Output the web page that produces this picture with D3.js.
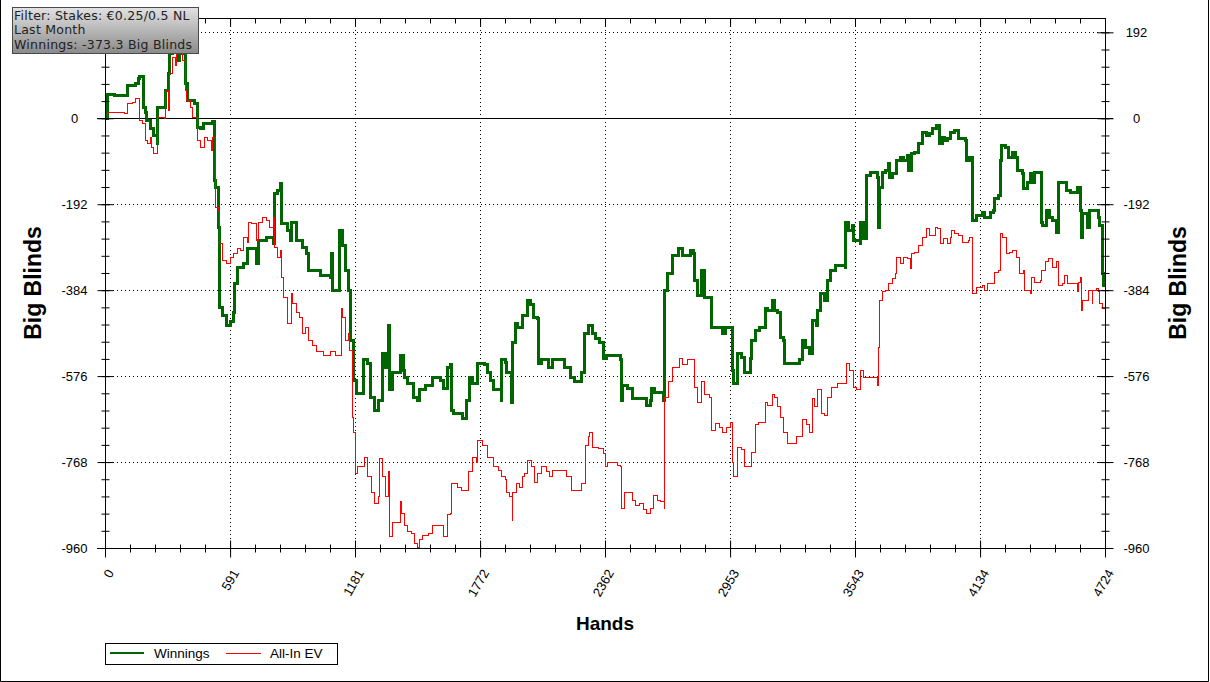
<!DOCTYPE html>
<html>
<head>
<meta charset="utf-8">
<script src="https://cdn.jsdelivr.net/npm/d3@7"></script>
<style>
  html, body { margin: 0; padding: 0; background: #fff; }
  svg { display: block; font-family: "Liberation Sans", Arial, sans-serif; }
</style>
</head>
<body>
<svg id="chart" width="1210" height="682"></svg>
<script>
// ---------- data ----------
const infoLines = ["Filter: Stakes: €0.25/0.5 NL", "Last Month", "Winnings: -373.3 Big Blinds"];
const seriesNames = ["Winnings", "All-In EV"];
const xTickLabels = [0, 591, 1181, 1772, 2362, 2953, 3543, 4134, 4724];
const yTickLabels = [192, 0, -192, -384, -576, -768, -960];

// Winnings (hand, big blinds)
const winningsHands = [0,14,47,94,104,142,156,165,180,189,198,213,222,231,246,250,283,288,298,307,317,331,345,354,368,378,392,416,425,435,449,463,510,515,524,534,543,557,572,591,605,614,624,652,671,709,718,723,746,765,794,803,813,827,836,860,874,883,907,931,954,959,1016,1063,1068,1077,1110,1124,1134,1148,1162,1172,1190,1219,1242,1252,1275,1290,1313,1323,1337,1346,1356,1384,1394,1408,1417,1431,1455,1474,1488,1512,1535,1549,1583,1597,1616,1630,1635,1644,1677,1691,1710,1724,1738,1762,1795,1809,1819,1833,1857,1871,1875,1890,1899,1918,1923,1937,1951,1970,1994,2008,2022,2045,2050,2064,2093,2112,2164,2173,2197,2220,2234,2253,2263,2282,2301,2315,2338,2353,2371,2419,2433,2438,2447,2466,2480,2490,2542,2560,2575,2584,2598,2622,2636,2645,2655,2679,2683,2707,2730,2764,2778,2787,2801,2820,2834,2858,2867,2905,2915,2929,2953,2962,2967,2986,2990,3009,3023,3047,3056,3071,3094,3118,3132,3151,3165,3179,3189,3203,3212,3269,3283,3293,3307,3330,3340,3363,3368,3378,3401,3411,3425,3449,3496,3500,3510,3529,3534,3567,3571,3581,3595,3614,3628,3647,3652,3661,3671,3685,3699,3708,3722,3741,3756,3770,3789,3798,3812,3826,3841,3860,3864,3883,3897,3907,3930,3940,3954,3968,3982,3992,4015,4030,4053,4067,4072,4086,4096,4100,4119,4143,4157,4181,4195,4204,4219,4228,4237,4252,4266,4285,4299,4313,4332,4337,4356,4370,4379,4393,4417,4426,4431,4450,4464,4478,4497,4502,4526,4544,4559,4573,4592,4606,4615,4620,4639,4653,4667,4691,4700,4710,4719,4724];
const winningsBB = [0,54,51,51,74,78,89,94,25,13,-4,-22,-22,-38,-56,25,25,63,100,145,163,152,129,152,145,78,40,40,33,-20,-22,-11,-7,-138,-154,-243,-422,-440,-462,-455,-435,-368,-333,-324,-290,-290,-324,-272,-272,-266,-279,-167,-161,-145,-234,-250,-272,-232,-272,-288,-301,-339,-351,-355,-301,-384,-250,-284,-339,-384,-496,-585,-614,-540,-547,-623,-652,-630,-525,-556,-462,-607,-569,-569,-529,-563,-578,-592,-623,-630,-607,-596,-596,-580,-585,-603,-556,-551,-652,-659,-659,-670,-630,-578,-592,-547,-551,-569,-585,-607,-607,-630,-540,-545,-569,-636,-502,-458,-467,-440,-406,-417,-444,-447,-547,-540,-556,-540,-540,-556,-578,-589,-589,-569,-480,-462,-480,-491,-502,-536,-529,-529,-540,-630,-596,-603,-603,-625,-625,-641,-630,-603,-612,-612,-630,-384,-346,-346,-306,-290,-306,-295,-301,-362,-395,-339,-400,-400,-467,-467,-480,-467,-467,-563,-592,-569,-525,-534,-567,-536,-496,-473,-467,-424,-429,-406,-429,-435,-489,-496,-547,-547,-540,-496,-511,-525,-451,-462,-429,-391,-406,-362,-339,-328,-333,-232,-250,-239,-272,-279,-232,-268,-127,-121,-121,-132,-243,-154,-121,-116,-100,-132,-123,-94,-87,-94,-83,-116,-78,-76,-56,-49,-31,-38,-33,-22,-16,-56,-42,-49,-45,-31,-27,-45,-45,-49,-94,-87,-188,-228,-217,-210,-221,-210,-205,-179,-172,-94,-60,-65,-87,-76,-87,-116,-123,-156,-143,-123,-143,-121,-121,-232,-239,-205,-221,-228,-255,-143,-143,-161,-165,-165,-154,-205,-266,-212,-243,-205,-205,-221,-239,-346,-373.3,-373.3];

// All-In EV (hand, big blinds)
const evHands = [0,14,94,104,128,142,161,165,175,189,203,213,222,231,246,250,283,288,298,307,321,331,340,354,368,378,387,402,411,435,437,449,463,472,482,496,505,510,520,524,534,539,553,557,576,591,605,624,638,652,671,676,694,709,718,727,746,765,779,794,803,813,827,836,841,860,864,883,888,907,921,931,945,959,978,1001,1030,1063,1087,1115,1124,1134,1148,1157,1167,1172,1181,1195,1214,1228,1238,1242,1261,1275,1290,1299,1309,1323,1337,1346,1356,1384,1394,1403,1417,1431,1450,1464,1474,1488,1502,1526,1549,1592,1597,1616,1630,1639,1663,1686,1710,1715,1734,1743,1757,1762,1781,1795,1809,1833,1857,1875,1890,1899,1913,1923,1927,1946,1960,1970,1984,1998,2017,2031,2045,2064,2088,2102,2112,2164,2182,2206,2234,2253,2268,2282,2291,2305,2329,2353,2362,2376,2400,2419,2433,2438,2456,2471,2490,2504,2527,2542,2560,2575,2589,2608,2622,2641,2645,2660,2679,2683,2716,2730,2754,2778,2787,2801,2820,2834,2858,2867,2882,2905,2919,2938,2953,2962,2967,2986,2990,3009,3023,3038,3056,3071,3085,3104,3118,3132,3151,3165,3179,3189,3203,3222,3245,3269,3293,3316,3330,3340,3354,3368,3387,3401,3415,3434,3458,3496,3505,3519,3534,3552,3567,3581,3628,3647,3652,3656,3661,3675,3685,3699,3718,3732,3741,3756,3770,3789,3803,3812,3826,3841,3864,3883,3897,3921,3935,3945,3959,3978,3992,4001,4015,4030,4049,4063,4077,4086,4096,4100,4119,4143,4157,4171,4195,4204,4219,4228,4242,4261,4275,4289,4308,4322,4337,4346,4370,4379,4393,4417,4426,4441,4455,4474,4488,4497,4502,4521,4535,4549,4573,4592,4597,4606,4615,4620,4639,4648,4663,4667,4686,4691,4700,4710,4724];
const evBB = [0,13,11,33,36,45,40,-4,-11,-49,-56,-42,-65,-78,-78,2,0,63,18,100,136,118,152,147,129,63,40,25,2,-4,-49,-65,-65,-42,-49,-49,-71,-42,-138,-199,-205,-279,-288,-317,-324,-310,-301,-290,-295,-266,-277,-232,-234,-234,-272,-232,-221,-228,-243,-221,-288,-310,-295,-355,-400,-406,-458,-391,-413,-435,-444,-480,-467,-496,-507,-522,-529,-522,-529,-424,-444,-496,-480,-518,-668,-703,-793,-779,-779,-757,-770,-801,-837,-860,-846,-759,-801,-846,-790,-935,-902,-902,-857,-882,-909,-924,-927,-949,-958,-942,-931,-927,-909,-909,-935,-886,-882,-815,-824,-831,-831,-790,-757,-757,-770,-719,-730,-730,-757,-779,-786,-801,-808,-837,-846,-898,-837,-815,-824,-801,-793,-764,-779,-813,-793,-779,-790,-801,-786,-786,-801,-831,-831,-815,-730,-712,-701,-735,-737,-748,-779,-768,-770,-775,-779,-871,-835,-837,-853,-864,-860,-875,-882,-871,-842,-853,-857,-871,-623,-589,-589,-556,-536,-551,-540,-540,-601,-636,-589,-618,-623,-697,-681,-690,-703,-690,-679,-770,-801,-786,-735,-741,-779,-779,-746,-685,-679,-679,-636,-641,-618,-623,-645,-668,-703,-726,-726,-712,-674,-685,-701,-625,-645,-607,-659,-663,-623,-601,-592,-592,-547,-563,-601,-607,-563,-580,-580,-596,-536,-511,-406,-388,-384,-368,-357,-346,-310,-324,-310,-313,-335,-301,-299,-284,-266,-246,-261,-243,-246,-279,-268,-279,-266,-250,-257,-261,-277,-277,-272,-266,-373,-391,-377,-373,-384,-368,-368,-344,-339,-257,-266,-301,-299,-295,-310,-346,-339,-384,-391,-355,-366,-362,-339,-321,-313,-333,-333,-321,-373,-368,-351,-368,-368,-388,-366,-355,-429,-406,-406,-384,-413,-384,-380,-388,-413,-424,-447];

// ---------- chart ----------
const svg = d3.select("#chart");
const W = 1210, H = 682;
const x = d3.scaleLinear().domain([0, 4724]).range([105, 1105]);
const y = d3.scaleLinear().domain([-960, 224]).range([548, 18]);
const LAB = "'Liberation Sans', Arial, sans-serif";

// outer frame
svg.append("path")
  .attr("d", `M0.5,0 V${H - 0.5} H${W - 1.5} V0`)
  .attr("fill", "none").attr("stroke", "#000").attr("stroke-width", 1);

const xMinor = d3.range(0, 41).map(i => i * 4724 / 40);
const yMinor = d3.range(0, 31).map(i => -960 + i * 38.4).filter(v => v <= 224);

// gridlines (dotted)
const grid = svg.append("g");
grid.selectAll("line.vg").data(xTickLabels.slice(1, -1)).join("line")
  .attr("x1", d => Math.round(x(d)) + 0.5).attr("x2", d => Math.round(x(d)) + 0.5)
  .attr("y1", y(224)).attr("y2", y(-960))
  .attr("stroke", "#000").attr("stroke-width", 1).attr("stroke-dasharray", "1,3");
grid.selectAll("line.hg").data(yTickLabels.filter(v => v !== 0 && v !== -960)).join("line")
  .attr("x1", x(0)).attr("x2", x(4724))
  .attr("y1", d => Math.round(y(d)) + 0.5).attr("y2", d => Math.round(y(d)) + 0.5)
  .attr("stroke", "#000").attr("stroke-width", 1).attr("stroke-dasharray", "1,3");

// top frame line
svg.append("line").attr("x1", 105).attr("x2", 1105.5).attr("y1", 18.5).attr("y2", 18.5)
  .attr("stroke", "#000");

// zero line
svg.append("line").attr("x1", 97).attr("x2", 1113).attr("y1", Math.round(y(0)) + 0.5).attr("y2", Math.round(y(0)) + 0.5)
  .attr("stroke", "#000");

// series lines
const lineGen = d3.line().x(d => x(d[0])).y(d => y(d[1])).curve(d3.curveStepAfter);
const winData = winningsHands.map((h, i) => [h, winningsBB[i]]);
const evData = evHands.map((h, i) => [h, evBB[i]]);
svg.append("path").datum(winData).attr("d", lineGen)
  .attr("fill", "none").attr("stroke", "#006600").attr("stroke-width", 3)
  .attr("shape-rendering", "crispEdges");
svg.append("path").datum(evData).attr("d", lineGen)
  .attr("fill", "none").attr("stroke", "#ff0000").attr("stroke-width", 1)
  .attr("shape-rendering", "crispEdges");

// x axis (bottom)
const xAxisG = svg.append("g").attr("transform", `translate(0,${Math.round(y(-960)) + 0.5})`);
xAxisG.call(d3.axisBottom(x).tickValues(xMinor).tickSize(4).tickFormat(""));
xAxisG.selectAll(".tick line").attr("y1", -4);
xAxisG.select(".domain").remove();
const xMaj = svg.append("g").attr("transform", `translate(0,${Math.round(y(-960)) + 0.5})`);
xMaj.call(d3.axisBottom(x).tickValues(xTickLabels).tickSize(9).tickFormat(d => d));
xMaj.select(".domain").remove();
xMaj.selectAll(".tick line").attr("y1", -8);
xMaj.selectAll(".tick text")
  .style("font-family", LAB).style("font-size", "13px").attr("fill", "#000")
  .attr("text-anchor", "end").attr("dy", "0.35em")
  .attr("transform", "translate(5,22) rotate(-60)")
  .attr("y", 0).attr("x", 0);
svg.append("line").attr("x1", 97).attr("x2", 1105.5).attr("y1", Math.round(y(-960)) + 0.5).attr("y2", Math.round(y(-960)) + 0.5)
  .attr("stroke", "#000");

// top ticks (inward)
const xTop = svg.append("g").attr("transform", "translate(0,18.5)");
xTop.call(d3.axisBottom(x).tickValues(xMinor).tickSize(5).tickFormat(""));
xTop.select(".domain").remove();
const xTop2 = svg.append("g").attr("transform", "translate(0,18.5)");
xTop2.call(d3.axisBottom(x).tickValues(xTickLabels).tickSize(8).tickFormat(""));
xTop2.select(".domain").remove();

// left axis
const yL = svg.append("g").attr("transform", "translate(105.5,0)");
yL.call(d3.axisLeft(y).tickValues(yMinor).tickSize(4).tickFormat(""));
yL.selectAll(".tick line").attr("x1", 4);
yL.select(".domain").remove();
const yLM = svg.append("g").attr("transform", "translate(105.5,0)");
yLM.call(d3.axisLeft(y).tickValues(yTickLabels).tickSize(8).tickFormat(d => d));
yLM.select(".domain").remove();
yLM.selectAll(".tick line").attr("x1", 8);
yLM.selectAll(".tick text").style("font-family", LAB).style("font-size", "13px")
  .attr("fill", "#000").attr("text-anchor", "middle").attr("x", -31);
svg.append("line").attr("x1", 105.5).attr("x2", 105.5).attr("y1", 18).attr("y2", 557).attr("stroke", "#000");

// right axis
const yR = svg.append("g").attr("transform", "translate(1105.5,0)");
yR.call(d3.axisRight(y).tickValues(yMinor).tickSize(4).tickFormat(""));
yR.selectAll(".tick line").attr("x1", -4);
yR.select(".domain").remove();
const yRM = svg.append("g").attr("transform", "translate(1105.5,0)");
yRM.call(d3.axisRight(y).tickValues(yTickLabels).tickSize(8).tickFormat(d => d));
yRM.select(".domain").remove();
yRM.selectAll(".tick line").attr("x1", -8);
yRM.selectAll(".tick text").style("font-family", LAB).style("font-size", "13px")
  .attr("fill", "#000").attr("text-anchor", "middle").attr("x", 31);
svg.append("line").attr("x1", 1105.5).attr("x2", 1105.5).attr("y1", 18).attr("y2", 557).attr("stroke", "#000");

// axis titles
svg.append("text").attr("x", 605).attr("y", 630).attr("text-anchor", "middle")
  .style("font-family", LAB).style("font-size", "19px").attr("font-weight", "bold").text("Hands");
svg.append("text").attr("transform", "translate(41,283) rotate(-90)").attr("text-anchor", "middle")
  .style("font-family", LAB).style("font-size", "23px").attr("font-weight", "bold").text("Big Blinds");
svg.append("text").attr("transform", "translate(1186,283) rotate(-90)").attr("text-anchor", "middle")
  .style("font-family", LAB).style("font-size", "23px").attr("font-weight", "bold").text("Big Blinds");

// legend
const lg = svg.append("g");
lg.append("rect").attr("x", 105.5).attr("y", 643.5).attr("width", 232).attr("height", 21)
  .attr("fill", "#fff").attr("stroke", "#000");
lg.append("line").attr("x1", 110).attr("x2", 144).attr("y1", 653).attr("y2", 653)
  .attr("stroke", "#006600").attr("stroke-width", 2);
lg.append("text").attr("x", 154).attr("y", 658).style("font-family", LAB).style("font-size", "13.5px").text(seriesNames[0]);
lg.append("line").attr("x1", 226).attr("x2", 261).attr("y1", 653.5).attr("y2", 653.5)
  .attr("stroke", "#ff0000").attr("stroke-width", 1);
lg.append("text").attr("x", 270).attr("y", 658).style("font-family", LAB).style("font-size", "13.5px").text(seriesNames[1]);

// info box
const defs = svg.append("defs");
const grad = defs.append("linearGradient").attr("id", "infoGrad").attr("x1", 0).attr("y1", 0).attr("x2", 0).attr("y2", 1);
grad.append("stop").attr("offset", "0%").attr("stop-color", "#e2e2e2");
grad.append("stop").attr("offset", "100%").attr("stop-color", "#8a8a8a");
svg.append("rect").attr("x", 12.5).attr("y", 7.5).attr("width", 186).attr("height", 46)
  .attr("fill", "url(#infoGrad)").attr("stroke", "#4a4a4a");
svg.append("g").selectAll("text").data(infoLines).join("text")
  .attr("x", 14).attr("y", (d, i) => 19.5 + i * 14.5)
  .style("font-family", "'DejaVu Sans', Verdana, sans-serif").style("font-size", "12.5px")
  .style("letter-spacing", "0.25px")
  .attr("fill", "#222").text(d => d);
</script>
</body>
</html>
